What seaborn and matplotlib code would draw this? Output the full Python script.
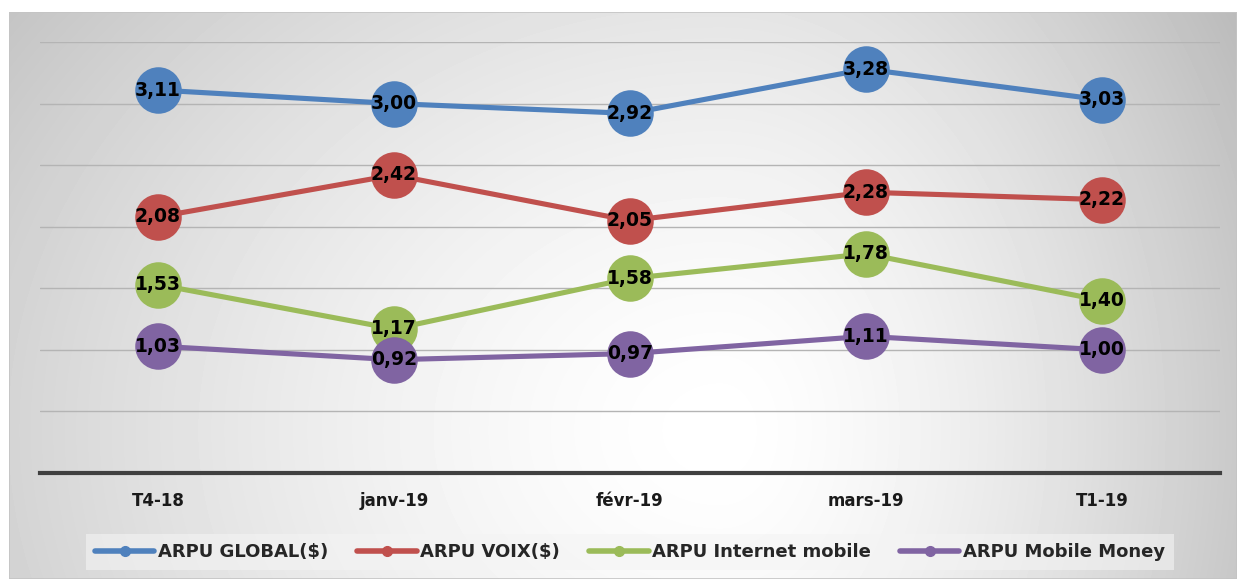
import numpy as np
import pandas as pd
import matplotlib.pyplot as plt
import seaborn as sns

# DATA -------------------------------------------------------------------
periods = ["T4-18", "janv-19", "févr-19", "mars-19", "T1-19"]
arpu_global = [3.11, 3.00, 2.92, 3.28, 3.03]
arpu_voix = [2.08, 2.42, 2.05, 2.28, 2.22]
arpu_internet = [1.53, 1.17, 1.58, 1.78, 1.40]
arpu_money = [1.03, 0.92, 0.97, 1.11, 1.00]
series_names = ["ARPU GLOBAL($)", "ARPU VOIX($)", "ARPU Internet mobile", "ARPU Mobile Money"]
colors = ["#4F81BD", "#C0504D", "#9BBB59", "#8064A2"]

rows = []
for name, vals in zip(series_names, [arpu_global, arpu_voix, arpu_internet, arpu_money]):
    for i, v in enumerate(vals):
        rows.append({"serie": name, "pos": i, "periode": periods[i], "valeur": v})
df = pd.DataFrame(rows)

# FIGURE -----------------------------------------------------------------
sns.set_theme(style="white")
plt.rcParams["font.family"] = ["DejaVu Sans"]

W, H = 1237, 579
fig = plt.figure(figsize=(W / 100, H / 100), dpi=100)
fig.patch.set_facecolor("white")

# gradient panel behind the chart (lighter centre, grey edges)
bg = fig.add_axes([9 / W, 0, 1 - 9 / W, (H - 12) / H], zorder=0)
yy, xx = np.mgrid[12:H, 9:W]
cx, cy = 720, 430
rx = np.where(xx < cx, 800.0, 500.0)
d = np.sqrt(((xx - cx) / rx) ** 2 + ((yy - cy) / 650.0) ** 2)
shade = 1 - 0.2 * np.clip(d, 0, 1.3) ** 1.5
bg.imshow(shade, cmap="gray", vmin=0, vmax=1, aspect="auto", interpolation="bilinear")
bg.set_axis_off()
bg.add_patch(plt.Rectangle((0, 0), 1, 1, transform=bg.transAxes, fill=False,
                           edgecolor="#c4c4c4", lw=1.2))

ax = fig.add_axes([40 / W, 106 / H, 1180 / W, 431 / H], zorder=1)
ax.set_facecolor("none")

sns.lineplot(data=df, x="pos", y="valeur", hue="serie", hue_order=series_names,
             palette=colors, marker="o", markersize=33.5, markeredgewidth=0,
             linewidth=3.7, sort=False, legend=False, ax=ax)

for name, vals in zip(series_names, [arpu_global, arpu_voix, arpu_internet, arpu_money]):
    for i, v in enumerate(vals):
        ax.text(i, v, f"{v:.2f}".replace(".", ","), ha="center", va="center",
                fontsize=13.5, fontweight="bold", color="black", zorder=10)

ax.set_xlim(-0.5, 4.5)
ax.set_ylim(0, 3.5)
ax.set_yticks(np.arange(0.5, 3.6, 0.5))
ax.set_yticklabels([])
ax.yaxis.grid(True, color="#b4b4b4", lw=1)
ax.set_axisbelow(True)
ax.set_xticks(range(len(periods)))
ax.set_xticklabels(periods, fontsize=12, fontweight="bold", color="#1a1a1a")
ax.tick_params(axis="x", length=0, pad=14)
ax.tick_params(axis="y", length=0)
ax.set_xlabel("")
ax.set_ylabel("")
for s in ["top", "right", "left"]:
    ax.spines[s].set_visible(False)
ax.spines["bottom"].set_color("#404040")
ax.spines["bottom"].set_linewidth(3)

handles = [plt.Line2D([0], [0], color=c, lw=4, marker="o", markersize=7,
                      solid_capstyle="round") for c in colors]
leg = fig.legend(handles, series_names, loc="center", ncol=4,
                 bbox_to_anchor=(630 / W, 27 / H), frameon=True,
                 prop={"size": 13, "weight": "bold"}, handlelength=3.3,
                 handletextpad=0.2, columnspacing=1.6, borderpad=0.5)
leg.get_frame().set_facecolor("#f4f4f4")
leg.get_frame().set_alpha(0.6)
leg.get_frame().set_edgecolor("none")
leg.get_frame().set_boxstyle("square", pad=0)

fig.savefig("out.png", dpi=100)
